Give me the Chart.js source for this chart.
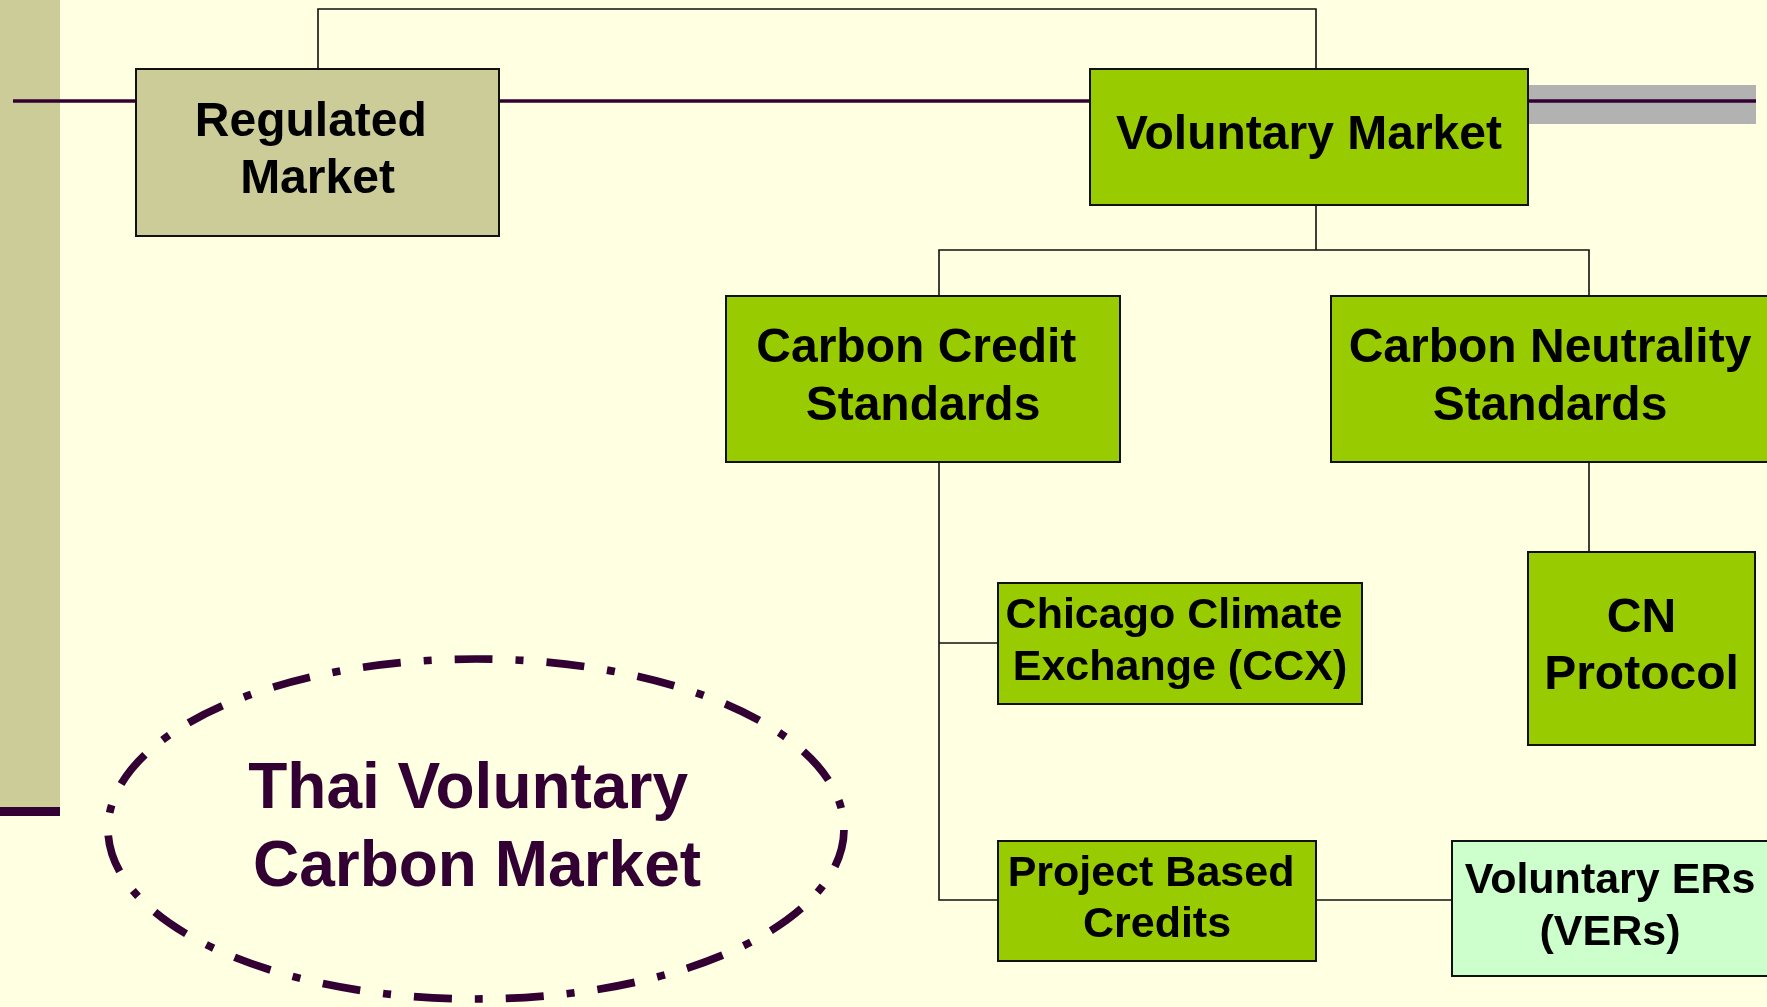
<!DOCTYPE html>
<html>
<head>
<meta charset="utf-8">
<title>Thai Voluntary Carbon Market</title>
<script src="https://cdn.jsdelivr.net/npm/chart.js@4.4.1/dist/chart.umd.min.js"></script>
<style>
    html, body { margin: 0; padding: 0; background: #ffffe1; overflow: hidden; }
    canvas { display: block; }
</style>
</head>
<body>
<canvas id="marketChart" width="1767" height="1007"></canvas>
<script>
// Узлы схемы (координаты в единицах осей)
const nodeLabels = [
    ['Regulated ', 'Market'],
    ['Voluntary Market'],
    ['Carbon Credit ', 'Standards'],
    ['Carbon Neutrality', 'Standards'],
    ['Chicago Climate ', 'Exchange (CCX)'],
    ['CN', 'Protocol'],
    ['Project Based ', 'Credits'],
    ['Voluntary ERs', '(VERs)']
];
const nodeKind = ['regulated', 'main', 'main', 'main', 'sub', 'main', 'sub', 'light'];
const nodeLeft = [136, 1090, 726, 1331, 998, 1528, 998, 1452];
const nodeRight = [499, 1528, 1120, 1769, 1362, 1755, 1316, 1768];
const nodeTop = [69, 69, 296, 296, 583, 552, 841, 841];
const nodeBottom = [236, 205, 462, 462, 704, 745, 961, 976];

// Соединительные линии
const links = [
    [[318, 69], [318, 9], [1316, 9], [1316, 69]],
    [[1316, 205], [1316, 250]],
    [[939, 296], [939, 250], [1589, 250], [1589, 296]],
    [[939, 462], [939, 900], [998, 900]],
    [[939, 643], [998, 643]],
    [[1316, 900], [1452, 900]],
    [[1589, 462], [1589, 552]]
];
const timeline = [[13, 101], [1756, 101]];

// Овал с подписью
const ovalCenter = [476, 829];
const ovalRadius = [368, 170];
const ovalLabel = ['Thai Voluntary ', 'Carbon Market'];

const kindStyle = {
    regulated: { fill: '#cccc99', font: 48 },
    main: { fill: '#99cc00', font: 48 },
    sub: { fill: '#99cc00', font: 43 },
    light: { fill: '#ccffcc', font: 43 }
};
const fontFamily = '"Liberation Sans", Arial, Helvetica, sans-serif';

var datasets = links.map(function(path) {
    return {
        data: path.map(function(p) { return { x: p[0], y: p[1] }; }),
        showLine: true,
        borderColor: '#111111',
        borderWidth: 1.6,
        pointRadius: 0,
        fill: false
    };
});
datasets.unshift({
    data: timeline.map(function(p) { return { x: p[0], y: p[1] }; }),
    showLine: true,
    borderColor: '#330033',
    borderWidth: 3.5,
    pointRadius: 0,
    fill: false
});

// Фон: левая полоса и серая плашка справа
const backdropPlugin = {
    id: 'backdrop',
    beforeDatasetsDraw: function(chart) {
        var c = chart.ctx, sx = chart.scales.x, sy = chart.scales.y;
        c.save();
        c.fillStyle = '#cccc99';
        c.fillRect(sx.getPixelForValue(0), sy.getPixelForValue(0),
            sx.getPixelForValue(60) - sx.getPixelForValue(0), sy.getPixelForValue(807) - sy.getPixelForValue(0));
        c.fillStyle = '#330033';
        c.fillRect(sx.getPixelForValue(0), sy.getPixelForValue(807),
            sx.getPixelForValue(60) - sx.getPixelForValue(0), sy.getPixelForValue(816) - sy.getPixelForValue(807));
        c.fillStyle = '#b2b2b2';
        c.fillRect(sx.getPixelForValue(1528), sy.getPixelForValue(85),
            sx.getPixelForValue(1756) - sx.getPixelForValue(1528), sy.getPixelForValue(124) - sy.getPixelForValue(85));
        c.restore();
    }
};

// Прямоугольники узлов, текст и овал
const nodesPlugin = {
    id: 'nodes',
    afterDatasetsDraw: function(chart) {
        var c = chart.ctx, sx = chart.scales.x, sy = chart.scales.y;
        c.save();
        nodeLabels.forEach(function(lines, i) {
            var st = kindStyle[nodeKind[i]];
            var x0 = sx.getPixelForValue(nodeLeft[i]), x1 = sx.getPixelForValue(nodeRight[i]);
            var y0 = sy.getPixelForValue(nodeTop[i]), y1 = sy.getPixelForValue(nodeBottom[i]);
            c.fillStyle = st.fill;
            c.fillRect(x0, y0, x1 - x0, y1 - y0);
            c.strokeStyle = '#111111';
            c.lineWidth = 2;
            c.strokeRect(x0, y0, x1 - x0, y1 - y0);

            var cx = (x0 + x1) / 2, cy = (y0 + y1) / 2;
            var lh = st.font * 1.2;
            c.fillStyle = '#000000';
            c.font = 'bold ' + st.font + 'px ' + fontFamily;
            c.textAlign = 'center';
            c.textBaseline = 'alphabetic';
            lines.forEach(function(t, k) {
                var ly = cy + (k - (lines.length - 1) / 2) * lh + st.font * 0.358 - 5;
                c.fillText(t, cx, ly);
            });
        });

        // овал штрих-пунктиром
        var ox = sx.getPixelForValue(ovalCenter[0]), oy = sy.getPixelForValue(ovalCenter[1]);
        var rx = sx.getPixelForValue(ovalCenter[0] + ovalRadius[0]) - ox;
        var ry = sy.getPixelForValue(ovalCenter[1] + ovalRadius[1]) - oy;
        c.beginPath();
        c.ellipse(ox, oy, rx, ry, 0, 0, Math.PI * 2);
        c.strokeStyle = '#330033';
        c.lineWidth = 7.7;
        c.setLineDash([38, 23, 8, 23]);
        c.lineDashOffset = -1;
        c.stroke();
        c.setLineDash([]);

        c.fillStyle = '#330033';
        c.font = 'bold 64px ' + fontFamily;
        c.textAlign = 'center';
        c.fillText(ovalLabel[0], ox + 1, oy - 21);
        c.fillText(ovalLabel[1], ox + 1, oy + 57);
        c.restore();
    }
};

var ctx = document.getElementById('marketChart').getContext('2d');
var marketChart = new Chart(ctx, {
    type: 'scatter',
    data: { datasets: datasets },
    options: {
        responsive: false,
        animation: false,
        devicePixelRatio: 1,
        layout: { padding: 0 },
        plugins: {
            legend: { display: false },
            tooltip: { enabled: false }
        },
        scales: {
            x: { type: 'linear', min: 0, max: 1767, display: false },
            y: { type: 'linear', min: 0, max: 1007, reverse: true, display: false }
        }
    },
    plugins: [backdropPlugin, nodesPlugin]
});
</script>
</body>
</html>
